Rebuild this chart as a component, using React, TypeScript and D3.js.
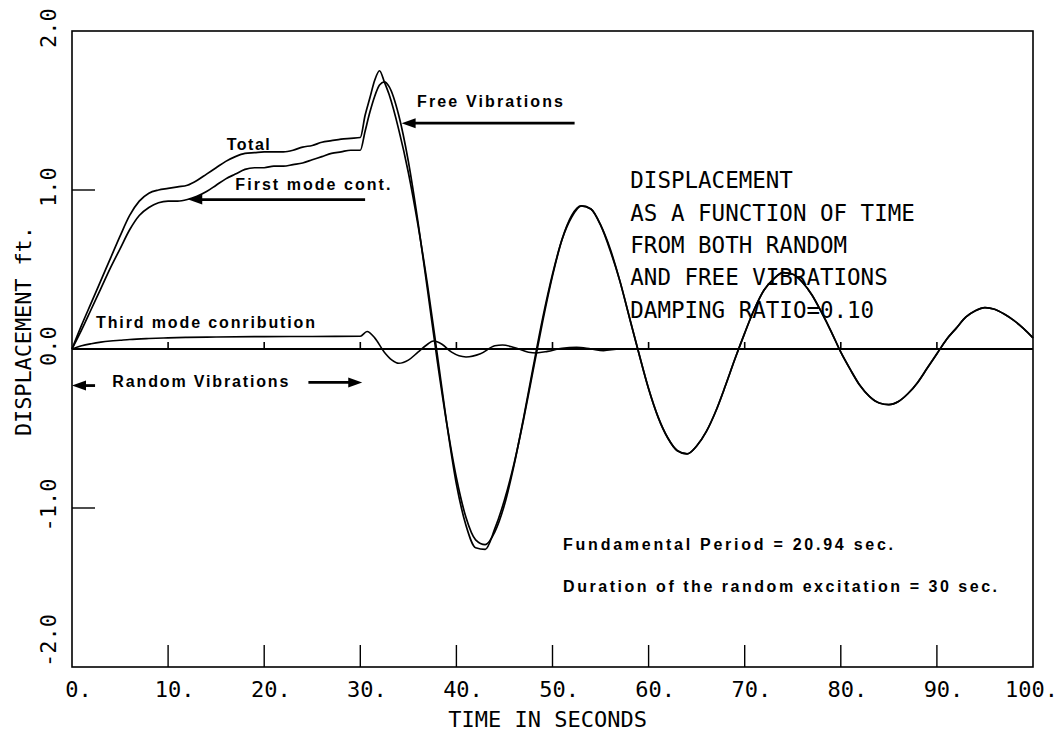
import React from "react";
import * as d3 from "d3";

// time samples (sec) shared by the total and first-mode curves
const timeSec = [
  ...d3.range(0, 31),
  30.5, 31, 31.5, 32, 32.5,
  ...d3.range(33, 101),
];

// total displacement (ft)
const totalDisp = [
  0, 0.15, 0.29, 0.43, 0.57, 0.71, 0.84, 0.93, 0.98, 1.0, // 0-9
  1.01, 1.02, 1.03, 1.06, 1.1, 1.14, 1.18, 1.21, 1.23, 1.235, // 10-19
  1.24, 1.24, 1.24, 1.25, 1.27, 1.28, 1.3, 1.31, 1.32, 1.325, 1.33, // 20-30
  1.47, 1.58, 1.69, 1.75, 1.68, // 30.5-32.5
  1.6, 1.38, 1.11, 0.78, 0.4, -0.03, -0.47, -0.85, -1.11, -1.25, // 33-42
  -1.26, -1.13, -0.95, -0.72, -0.44, -0.13, 0.18, 0.46, 0.69, 0.84, // 43-52
  0.9, 0.88, 0.78, 0.62, 0.43, 0.2, -0.03, -0.25, -0.43, -0.56, // 53-62
  -0.64, -0.66, -0.61, -0.52, -0.39, -0.23, -0.06, 0.1, 0.25, 0.37, // 63-72
  0.44, 0.48, 0.47, 0.42, 0.34, 0.23, 0.11, -0.02, -0.13, -0.23, // 73-82
  -0.3, -0.34, -0.35, -0.33, -0.28, -0.21, -0.12, -0.03, 0.06, 0.13, // 83-92
  0.2, 0.24, 0.26, 0.25, 0.22, 0.18, 0.13, 0.07, // 93-100
];

// first mode contribution (ft)
const firstDisp = [
  0, 0.12, 0.25, 0.38, 0.51, 0.63, 0.75, 0.84, 0.89, 0.92,
  0.93, 0.93, 0.94, 0.96, 0.99, 1.03, 1.07, 1.1, 1.13, 1.14,
  1.14, 1.15, 1.15, 1.16, 1.17, 1.19, 1.21, 1.23, 1.24, 1.25, 1.25,
  1.37, 1.49, 1.59, 1.66, 1.68,
  1.65, 1.47, 1.18, 0.8, 0.37, -0.07, -0.47, -0.81, -1.06, -1.2,
  -1.23, -1.15, -0.98, -0.73, -0.43, -0.11, 0.2, 0.47, 0.69, 0.83,
  0.9, 0.88, 0.78, 0.63, 0.43, 0.2, -0.03, -0.25, -0.43, -0.56,
  -0.64, -0.66, -0.61, -0.52, -0.39, -0.23, -0.06, 0.1, 0.25, 0.37,
  0.44, 0.48, 0.47, 0.42, 0.34, 0.23, 0.11, -0.02, -0.13, -0.23,
  -0.3, -0.34, -0.35, -0.33, -0.28, -0.21, -0.12, -0.03, 0.06, 0.13,
  0.2, 0.24, 0.26, 0.25, 0.22, 0.18, 0.13, 0.07,
];

// third mode contribution
const thirdTime = [
  0, 1, 2, 3, 4, 5, 6, 8, 10, 12, 15, 20, 25, 30,
  30.7, 31.5, 32.5, 33.3, 34, 35, 36, 37, 37.6,
  38.5, 39.5, 41, 42.5, 44, 44.8, 46, 47.5, 48.3, 49.5,
  51, 52.5, 54, 55.3, 57, 60, 70, 80, 90, 100,
];
const thirdDisp = [
  0, 0.02, 0.033, 0.043, 0.05, 0.055, 0.06, 0.066, 0.07, 0.073, 0.075, 0.078, 0.079, 0.08,
  0.11, 0.07, -0.02, -0.07, -0.09, -0.07, -0.02, 0.03, 0.05,
  0.03, -0.02, -0.05, -0.03, 0.02, 0.025, 0.01, -0.02, -0.025, -0.015,
  0.005, 0.01, 0, -0.01, 0, 0, 0, 0, 0, 0,
];

const xTicks = [0, 10, 20, 30, 40, 50, 60, 70, 80, 90, 100];
const yTicks = [-2, -1, 0, 1, 2];
const infoLines = [
  "DISPLACEMENT",
  "AS A FUNCTION OF TIME",
  "FROM BOTH RANDOM",
  "AND FREE VIBRATIONS",
  "DAMPING RATIO=0.10",
];

const W = 1059;
const H = 735;
const plotFont = "'DejaVu Sans Mono', monospace";
const noteFont = "'Liberation Sans', Arial, sans-serif";

export default function App() {
  const x = d3.scaleLinear().domain([0, 100]).range([72, 1033]);
  const y = d3.scaleLinear().domain([-2, 2]).range([667, 31]);

  const line = d3
    .line<[number, number]>()
    .x((d) => x(d[0]))
    .y((d) => y(d[1]))
    .curve(d3.curveMonotoneX);

  const totalPath = line(timeSec.map((t, i) => [t, totalDisp[i]]));
  const firstPath = line(timeSec.map((t, i) => [t, firstDisp[i]]));
  const thirdPath = line(thirdTime.map((t, i) => [t, thirdDisp[i]]));

  // arrow from t0 to t1 at level v, head at t1
  const arrow = (t0: number, t1: number, v: number, key: string) => {
    const x0 = x(t0), x1 = x(t1), yy = y(v);
    const dir = x1 > x0 ? 1 : -1;
    const head = 14;
    return (
      <g key={key}>
        <line x1={x0} y1={yy} x2={x1 - dir * head * 0.6} y2={yy} stroke="#000" strokeWidth={2.8} />
        <path
          d={`M${x1},${yy} L${x1 - dir * head},${yy - 5} L${x1 - dir * head},${yy + 5} Z`}
          fill="#000"
        />
      </g>
    );
  };

  return (
    <svg
      width={W}
      height={H}
      style={{ position: "absolute", left: 0, top: 0, background: "#fff" }}
    >
      {/* frame */}
      <rect
        x={x(0)}
        y={y(2)}
        width={x(100) - x(0)}
        height={y(-2) - y(2)}
        fill="none"
        stroke="#000"
        strokeWidth={1.6}
      />
      {/* zero axis */}
      <line x1={x(0)} x2={x(100)} y1={y(0)} y2={y(0)} stroke="#000" strokeWidth={2} />
      {xTicks.slice(1, -1).map((t) => (
        <g key={"xt" + t}>
          <line x1={x(t)} x2={x(t)} y1={y(-2)} y2={y(-2) - 22} stroke="#000" strokeWidth={1.4} />
          <line x1={x(t)} x2={x(t)} y1={y(0)} y2={y(0) - 7} stroke="#000" strokeWidth={1.6} />
        </g>
      ))}
      {yTicks
        .filter((v) => Math.abs(v) === 1)
        .map((v) => (
          <line key={"yt" + v} x1={x(0)} x2={x(0) + 23} y1={y(v)} y2={y(v)} stroke="#000" strokeWidth={1.4} />
        ))}

      {/* tick labels */}
      {xTicks.map((t) => (
        <text
          key={"xl" + t}
          x={t === 100 ? W - 1 : x(t) + 6.6}
          y={697}
          textAnchor={t === 100 ? "end" : "middle"}
          fontFamily={plotFont}
          fontSize={22}
        >
          {t + "."}
        </text>
      ))}
      {yTicks.map((v) => (
        <text
          key={"yl" + v}
          transform={`translate(56,${v === -2 ? y(v) : y(v) - 3}) rotate(-90)`}
          textAnchor={v === -2 ? "start" : "middle"}
          fontFamily={plotFont}
          fontSize={22}
        >
          {v.toFixed(1)}
        </text>
      ))}
      <text x={x(49.5)} y={727} textAnchor="middle" fontFamily={plotFont} fontSize={22}>
        TIME IN SECONDS
      </text>
      <text
        transform="translate(31,331) rotate(-90)"
        textAnchor="middle"
        fontFamily={plotFont}
        fontSize={22}
        textLength={210}
        lengthAdjust="spacing"
      >
        DISPLACEMENT ft.
      </text>

      {/* curves */}
      <path d={thirdPath || ""} fill="none" stroke="#000" strokeWidth={1.6} />
      <path d={firstPath || ""} fill="none" stroke="#000" strokeWidth={1.7} />
      <path d={totalPath || ""} fill="none" stroke="#000" strokeWidth={1.7} />

      {/* annotations */}
      <g fontFamily={noteFont} fontWeight="bold" fontSize={16} fill="#000">
        <text x={x(16.1)} y={y(1.25)} textLength={43} lengthAdjust="spacing">Total</text>
        <text x={x(17)} y={y(1.0)} textLength={155} lengthAdjust="spacing">First  mode cont.</text>
        <text x={x(35.9)} y={y(1.52)} textLength={146} lengthAdjust="spacing">Free Vibrations</text>
        <text x={x(2.5)} y={y(0.13)} textLength={219} lengthAdjust="spacing">Third mode conribution</text>
        <text x={x(4.2)} y={y(-0.24)} textLength={176} lengthAdjust="spacing">Random Vibrations</text>
        <text x={x(51.1)} y={y(-1.265)} textLength={330} lengthAdjust="spacing">
          {"Fundamental   Period = 20.94 sec."}
        </text>
        <text x={x(51.1)} y={y(-1.53)} textLength={434} lengthAdjust="spacing">
          {"Duration of the random excitation = 30 sec."}
        </text>
      </g>
      {arrow(30.5, 12.1, 0.94, "a1")}
      {arrow(52.3, 34.3, 1.42, "a2")}
      {arrow(2.4, 0, -0.23, "a3")}
      {arrow(24.6, 30.2, -0.21, "a4")}

      {infoLines.map((s, i) => (
        <text
          key={"info" + i}
          x={x(58.1)}
          y={y(1.01) + i * 32.3}
          fontFamily={plotFont}
          fontSize={22.5}
        >
          {s}
        </text>
      ))}
    </svg>
  );
}
